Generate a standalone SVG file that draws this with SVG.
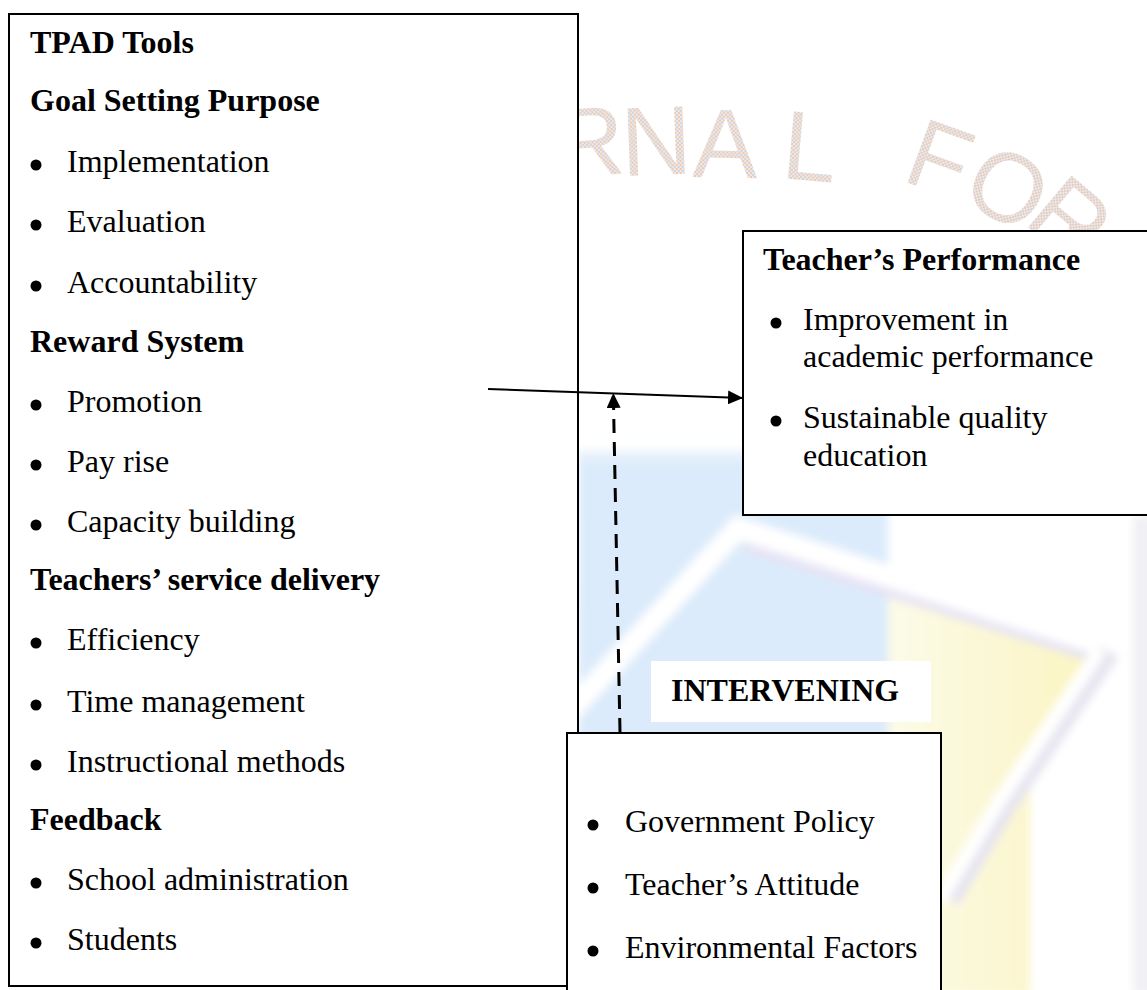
<svg xmlns="http://www.w3.org/2000/svg" width="1147" height="990" viewBox="0 0 1147 990">
  <style>
    .box { fill: #ffffff; stroke: #000000; stroke-width: 2; }
    .h { font-family: "Liberation Serif", "Times New Roman", serif; font-size: 32px; font-weight: bold; fill: #000000; }
    .t { font-family: "Liberation Serif", "Times New Roman", serif; font-size: 32px; fill: #000000; }
    .dot { fill: #000000; }
    .wm { font-family: "Liberation Sans", Arial, sans-serif; font-size: 98px; fill: url(#speck); }
    .flow { fill: none; stroke: #000000; stroke-width: 2; }
    .dash { fill: none; stroke: #000000; stroke-width: 3; stroke-dasharray: 14 9; }
  </style>
  <defs>
    <marker id="head" markerWidth="15" markerHeight="14" refX="15" refY="7" orient="auto" markerUnits="userSpaceOnUse">
      <path d="M0,0 L15,7 L0,14 Z" fill="#000000"/>
    </marker>
    <pattern id="speck" width="4" height="4" patternUnits="userSpaceOnUse">
      <rect width="4" height="4" fill="#eeeaea"/>
      <rect x="0" y="0" width="2" height="2" fill="#d3d2d8"/>
      <rect x="2" y="2" width="2" height="2" fill="#f0c9ad"/>
    </pattern>
    <filter id="soft" x="-10%" y="-10%" width="120%" height="120%">
      <feGaussianBlur stdDeviation="4"/>
    </filter>
    <linearGradient id="yellow" x1="0" y1="0" x2="1" y2="0">
      <stop offset="0" stop-color="#fcfbe8"/>
      <stop offset="0.7" stop-color="#fbf6cc"/>
      <stop offset="1" stop-color="#fcf5bd"/>
    </linearGradient>
    <linearGradient id="blue" x1="0" y1="0" x2="0" y2="1">
      <stop offset="0" stop-color="#eef4fc"/>
      <stop offset="0.03" stop-color="#dcebfb"/>
      <stop offset="1" stop-color="#dbeafb"/>
    </linearGradient>
  </defs>

  <rect width="1147" height="990" fill="#ffffff"/>

  <!-- faint logo artwork behind the boxes -->
  <g id="background" filter="url(#soft)">
    <rect x="578" y="450" width="310" height="545" fill="url(#blue)"/>
    <polygon points="888,590 1100,660 1030,770 1030,995 888,995" fill="url(#yellow)"/>
    <rect x="1133" y="515" width="20" height="480" fill="#f1f1f4"/>
    <line x1="745" y1="545" x2="1105" y2="660" stroke="#e6e2f4" stroke-width="12"/>
    <polyline points="560,722 738,528 1105,646" fill="none" stroke="#ffffff" stroke-width="22"/>
    <polyline points="1110,652 1010,800 950,900" fill="none" stroke="#e6e4ef" stroke-width="20"/>
    <polyline points="1100,650 1000,800 940,900" fill="none" stroke="#ffffff" stroke-width="14"/>
  </g>

  <!-- watermark lettering -->
  <g id="watermark">
    <text class="wm" transform="translate(556,178) rotate(-4)">R</text>
    <text class="wm" transform="translate(622,176) rotate(-2)">N</text>
    <text class="wm" transform="translate(692,177) rotate(1)">A</text>
    <text class="wm" transform="translate(780,178) rotate(5)">L</text>
    <text class="wm" transform="translate(900,180) rotate(20)">F</text>
    <text class="wm" transform="translate(958,198) rotate(30)">O</text>
    <text class="wm" transform="translate(1022,222) rotate(40)">R</text>
  </g>

  <!-- independent variables -->
  <g id="tpad-tools">
    <rect class="box" x="9" y="14" width="569" height="972"/>
    <text class="h" x="30" y="53">TPAD Tools</text>
    <text class="h" x="30" y="111">Goal Setting Purpose</text>
    <circle class="dot" cx="36" cy="165" r="5.5"/><text class="t" x="67" y="172">Implementation</text>
    <circle class="dot" cx="36" cy="225" r="5.5"/><text class="t" x="67" y="232">Evaluation</text>
    <circle class="dot" cx="36" cy="286" r="5.5"/><text class="t" x="67" y="293">Accountability</text>
    <text class="h" x="30" y="352">Reward System</text>
    <circle class="dot" cx="36" cy="405" r="5.5"/><text class="t" x="67" y="412">Promotion</text>
    <circle class="dot" cx="36" cy="465" r="5.5"/><text class="t" x="67" y="472">Pay rise</text>
    <circle class="dot" cx="36" cy="525" r="5.5"/><text class="t" x="67" y="532">Capacity building</text>
    <text class="h" x="30" y="590">Teachers’ service delivery</text>
    <circle class="dot" cx="36" cy="643" r="5.5"/><text class="t" x="67" y="650">Efficiency</text>
    <circle class="dot" cx="36" cy="705" r="5.5"/><text class="t" x="67" y="712">Time management</text>
    <circle class="dot" cx="36" cy="765" r="5.5"/><text class="t" x="67" y="772">Instructional methods</text>
    <text class="h" x="30" y="830">Feedback</text>
    <circle class="dot" cx="36" cy="883" r="5.5"/><text class="t" x="67" y="890">School administration</text>
    <circle class="dot" cx="36" cy="943" r="5.5"/><text class="t" x="67" y="950">Students</text>
  </g>

  <!-- dependent variable -->
  <g id="teachers-performance">
    <rect class="box" x="743" y="231" width="420" height="284"/>
    <text class="h" x="763" y="270">Teacher’s Performance</text>
    <circle class="dot" cx="776" cy="323" r="5.5"/><text class="t" x="803" y="330">Improvement in</text>
    <text class="t" x="803" y="367">academic performance</text>
    <circle class="dot" cx="776" cy="421" r="5.5"/><text class="t" x="803" y="428">Sustainable quality</text>
    <text class="t" x="803" y="466">education</text>
  </g>

  <!-- links between the variables -->
  <g id="connectors">
    <line class="flow" x1="488" y1="389" x2="743" y2="398" marker-end="url(#head)"/>
    <line class="dash" x1="620" y1="732" x2="613.3" y2="393" marker-end="url(#head)"/>
  </g>

  <g id="intervening-label">
    <rect x="651" y="661" width="280" height="61" fill="#ffffff"/>
    <text class="h" x="671" y="701">INTERVENING</text>
  </g>

  <!-- intervening variables -->
  <g id="intervening">
    <rect class="box" x="567" y="733" width="374" height="270"/>
    <circle class="dot" cx="593" cy="825" r="5.5"/><text class="t" x="625" y="832">Government Policy</text>
    <circle class="dot" cx="593" cy="888" r="5.5"/><text class="t" x="625" y="895">Teacher’s Attitude</text>
    <circle class="dot" cx="593" cy="951" r="5.5"/><text class="t" x="625" y="958">Environmental Factors</text>
  </g>
</svg>
